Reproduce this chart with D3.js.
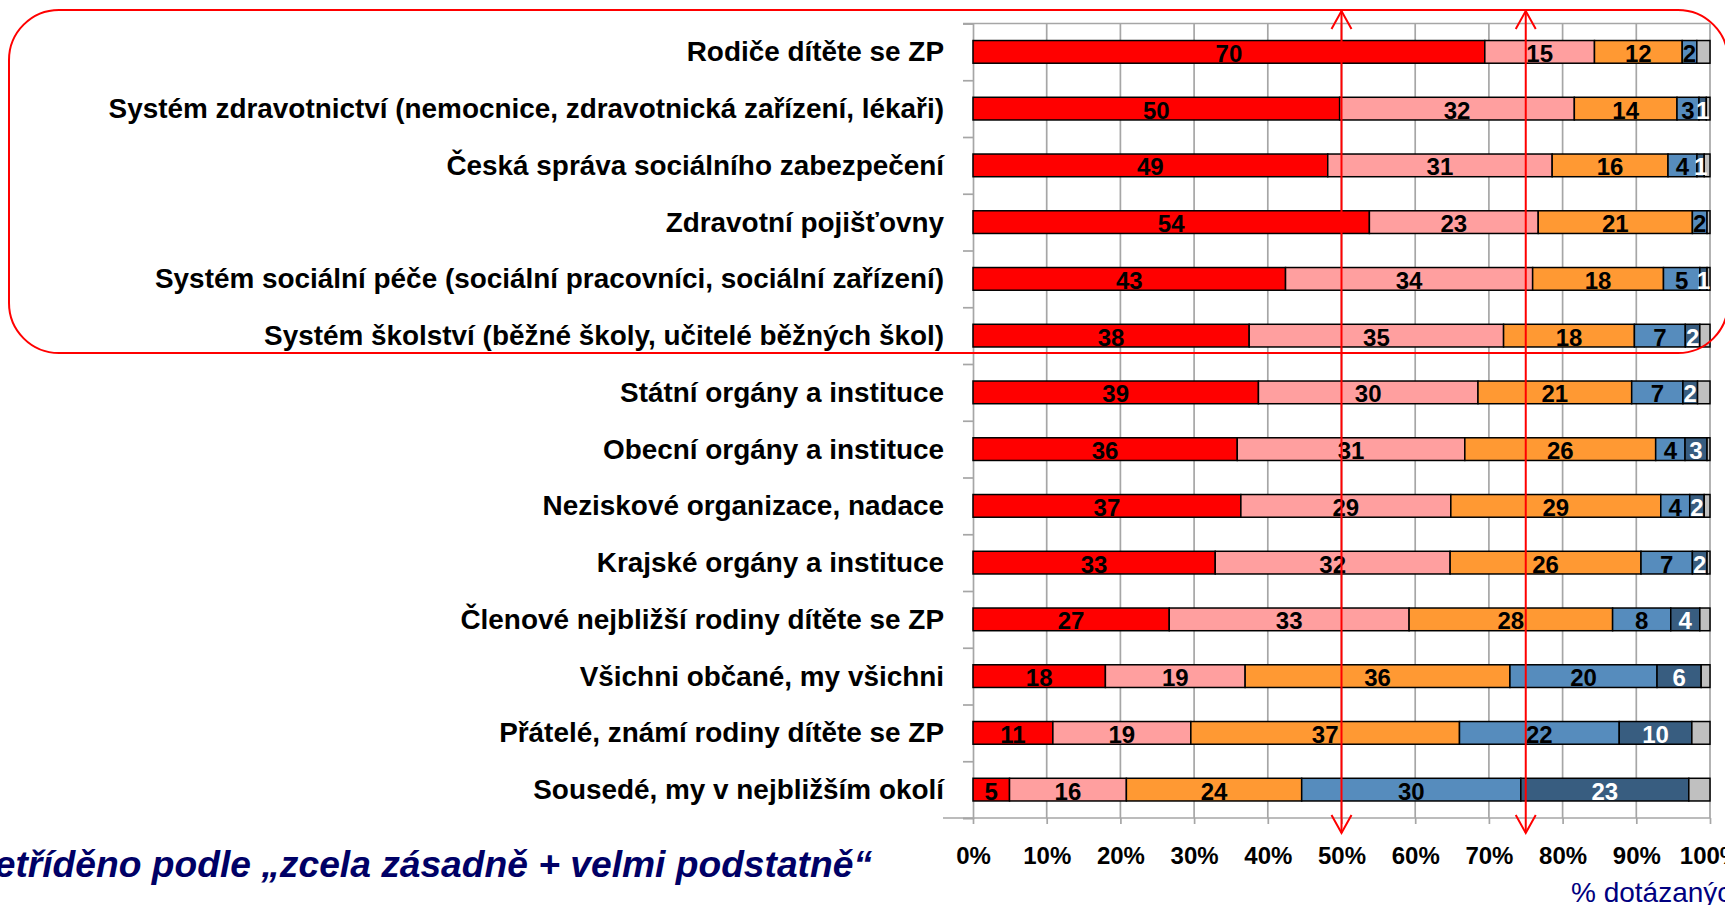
<!DOCTYPE html>
<html lang="cs">
<head>
<meta charset="UTF-8">
<title>Kdo má pomáhat dětem se ZP</title>
<script src="https://d3js.org/d3.v7.min.js"></script>
<style>
    body { margin: 0; background: #fff; }
    svg { display: block; font-family: "Liberation Sans", Arial, sans-serif; }
    .cat { font-size: 27.9px; font-weight: bold; fill: #000; }
    .val { font-size: 24px; font-weight: bold; text-anchor: middle; }
    .xaxis text { font-size: 24px; font-weight: bold; fill: #000; }
    .grid line { stroke: #a6a6a6; stroke-width: 1.7; }
</style>
</head>
<body>
<div id="chart"></div>
<script>
// categories, top to bottom
const categories = [
    "Rodiče dítěte se ZP",
    "Systém zdravotnictví (nemocnice, zdravotnická zařízení, lékaři)",
    "Česká správa sociálního zabezpečení",
    "Zdravotní pojišťovny",
    "Systém sociální péče (sociální pracovníci, sociální zařízení)",
    "Systém školství (běžné školy, učitelé běžných škol)",
    "Státní orgány a instituce",
    "Obecní orgány a instituce",
    "Neziskové organizace, nadace",
    "Krajské orgány a instituce",
    "Členové nejbližší rodiny dítěte se ZP",
    "Všichni občané, my všichni",
    "Přátelé, známí rodiny dítěte se ZP",
    "Sousedé, my v nejbližším okolí"
];

// series values (% respondents); last series has no data labels in the original
const zcelaZasadne  = [70, 50, 49, 54, 43, 38, 39, 36, 37, 33, 27, 18, 11, 5];
const velmiPodstatne = [15, 32, 31, 23, 34, 35, 30, 31, 29, 32, 33, 19, 19, 16];
const stredne       = [12, 14, 16, 21, 18, 18, 21, 26, 29, 26, 28, 36, 37, 24];
const malo          = [2, 3, 4, 2, 5, 7, 7, 4, 4, 7, 8, 20, 22, 30];
const vubec         = [0, 1, 1, 0, 1, 2, 2, 3, 2, 2, 4, 6, 10, 23];
const nevim         = [1.8, 0.5, 0.8, 0.4, 0.4, 1.4, 1.7, 0.4, 0.8, 0.4, 1.4, 1.2, 2.5, 2.9];

const xTicks = [0, 0.1, 0.2, 0.3, 0.4, 0.5, 0.6, 0.7, 0.8, 0.9, 1];
const markers = [0.5, 0.75];

const seriesKeys = ["zcela", "velmi", "stredne", "malo", "vubec", "nevim"];
const seriesVals = [zcelaZasadne, velmiPodstatne, stredne, malo, vubec, nevim];
const colors = ["#ff0000", "#ff9f9f", "#ff9933", "#568cbd", "#385d80", "#c0c0c0"];
const textColors = ["#000", "#000", "#000", "#000", "#fff", null];

const W = 1725, H = 905;
const plotL = 973, plotR = 1710, plotT = 23.5, plotB = 818;

const svg = d3.select("#chart").append("svg")
    .attr("width", W)
    .attr("height", H);

// 100% stacked: each row normalised to its total
const rows = categories.map((c, i) => {
    const o = { cat: c };
    const tot = d3.sum(seriesVals, s => s[i]);
    seriesKeys.forEach((k, j) => o[k] = seriesVals[j][i] / tot);
    o.raw = seriesVals.map(s => s[i]);
    return o;
});
const stacked = d3.stack().keys(seriesKeys)(rows);

const x = d3.scaleLinear().domain([0, 1]).range([plotL, plotR]);
const y = d3.scaleBand().domain(categories).range([plotT, plotB])
    .paddingInner(0.6).paddingOuter(0.3);
const yRow = d3.scaleLinear().domain([0, categories.length]).range([plotT, plotB]);

// gridlines
svg.append("g").attr("class", "grid")
    .selectAll("line")
    .data(xTicks.slice(1))
    .join("line")
    .attr("x1", d => x(d)).attr("x2", d => x(d))
    .attr("y1", plotT).attr("y2", plotB);
svg.append("line")
    .attr("x1", plotL - 10).attr("x2", plotR)
    .attr("y1", plotT).attr("y2", plotT)
    .attr("stroke", "#a6a6a6").attr("stroke-width", 1.7);

// left axis with ticks between categories
const yAxis = svg.append("g")
    .attr("transform", `translate(${plotL},0)`)
    .call(d3.axisLeft(yRow).tickValues(d3.range(categories.length + 1)).tickSize(10).tickFormat(""));
yAxis.selectAll("line, path").attr("stroke", "#a6a6a6").attr("stroke-width", 1.7);

// bottom axis
const xAxis = svg.append("g")
    .attr("class", "xaxis")
    .attr("transform", `translate(0,${plotB})`)
    .call(d3.axisBottom(x).tickValues(xTicks).tickSize(6).tickPadding(23).tickFormat(d3.format(".0%")));
xAxis.selectAll("line, path").attr("stroke", "#a6a6a6").attr("stroke-width", 1.7);
xAxis.select(".domain").attr("d", `M${plotL - 30},0H${plotR}`);
xAxis.attr("font-family", null).attr("font-size", null);

// bars
const layers = svg.append("g").selectAll("g")
    .data(stacked)
    .join("g")
    .attr("fill", (d, i) => colors[i]);

layers.selectAll("rect")
    .data(d => d)
    .join("rect")
    .attr("x", d => x(d[0]))
    .attr("y", d => y(d.data.cat))
    .attr("width", d => x(d[1]) - x(d[0]))
    .attr("height", y.bandwidth())
    .attr("stroke", "#000")
    .attr("stroke-width", 1.5);

// value labels
stacked.forEach((layer, i) => {
    if (!textColors[i]) return;
    svg.append("g").selectAll("text")
        .data(layer.filter(d => d.data.raw[i] > 0))
        .join("text")
        .attr("class", "val")
        .attr("fill", textColors[i])
        .attr("x", d => (x(d[0]) + x(d[1])) / 2)
        .attr("y", d => y(d.data.cat) + y.bandwidth() / 2 + 10)
        .text(d => d.data.raw[i]);
});

// category labels
svg.append("g").selectAll("text")
    .data(categories)
    .join("text")
    .attr("class", "cat")
    .attr("text-anchor", "end")
    .attr("x", plotL - 29)
    .attr("y", d => y(d) + y.bandwidth() / 2 + 9.5)
    .text(d => d);

// red highlight frame around the first six rows
svg.append("rect")
    .attr("x", 9).attr("y", 10)
    .attr("width", 1728 - 9).attr("height", 353 - 10)
    .attr("rx", 50).attr("ry", 50)
    .attr("fill", "none")
    .attr("stroke", "#ff0000")
    .attr("stroke-width", 2);

// double-headed arrows at 50 % and 75 %
const arrowTop = 11, arrowBot = 833;
markers.forEach(m => {
    const mx = x(m);
    const g = svg.append("g").attr("stroke", "#ff0000").attr("stroke-width", 2).attr("fill", "none");
    g.append("line").attr("x1", mx).attr("x2", mx).attr("y1", arrowTop).attr("y2", arrowBot);
    g.append("path").attr("d", `M${mx - 10},${arrowTop + 18}L${mx},${arrowTop}L${mx + 10},${arrowTop + 18}`);
    g.append("path").attr("d", `M${mx - 10},${arrowBot - 18}L${mx},${arrowBot}L${mx + 10},${arrowBot - 18}`);
});

// notes (both run off the page edge in the original slide)
svg.append("text")
    .attr("x", 872).attr("y", 877)
    .attr("text-anchor", "end")
    .attr("fill", "#000066")
    .attr("font-size", 37.2)
    .attr("font-weight", "bold")
    .attr("font-style", "italic")
    .text("Setříděno podle „zcela zásadně + velmi podstatně“");

svg.append("text")
    .attr("x", 1571).attr("y", 902)
    .attr("fill", "#000080")
    .attr("font-size", 28)
    .text("% dotázaných");
</script>
</body>
</html>
